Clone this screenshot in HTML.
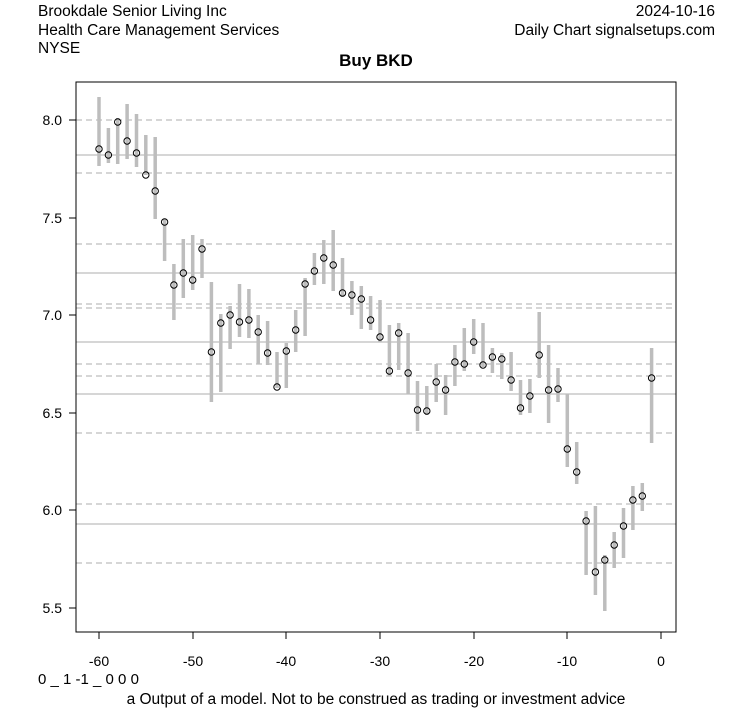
<!DOCTYPE html>
<html><head><style>body{margin:0;background:#fff}svg{display:block;font-family:"Liberation Sans",Arial,sans-serif}</style></head><body>
<svg width="753" height="708" xmlns="http://www.w3.org/2000/svg">
<rect width="753" height="708" fill="#fff"/>
<text x="38" y="16" font-size="15.5">Brookdale Senior Living Inc</text>
<text x="38" y="35" font-size="15.5">Health Care Management Services</text>
<text x="38" y="53" font-size="15.5">NYSE</text>
<text x="715" y="16" font-size="15.5" text-anchor="end">2024-10-16</text>
<text x="715" y="35" font-size="15.5" text-anchor="end">Daily Chart signalsetups.com</text>
<text x="376" y="66" font-size="17" font-weight="bold" text-anchor="middle">Buy BKD</text>
<g stroke="#bdbdbd" stroke-width="1.2">
<line x1="76" x2="676" y1="155" y2="155"/><line x1="76" x2="676" y1="273" y2="273"/><line x1="76" x2="676" y1="342" y2="342"/><line x1="76" x2="676" y1="394" y2="394"/><line x1="76" x2="676" y1="524" y2="524"/>
</g>
<g stroke="#bdbdbd" stroke-width="1.2" stroke-dasharray="6,4">
<line x1="76" x2="676" y1="120" y2="120"/><line x1="76" x2="676" y1="173" y2="173"/><line x1="76" x2="676" y1="244" y2="244"/><line x1="76" x2="676" y1="304" y2="304"/><line x1="76" x2="676" y1="308" y2="308"/><line x1="76" x2="676" y1="364" y2="364"/><line x1="76" x2="676" y1="376" y2="376"/><line x1="76" x2="676" y1="433" y2="433"/><line x1="76" x2="676" y1="504" y2="504"/><line x1="76" x2="676" y1="563" y2="563"/>
</g>
<path stroke="#bdbdbd" stroke-width="3.5" fill="none" d="M99 97V166M108.4 128V163M117.7 118V164M127.1 104V159M136.5 114V167M145.8 135V175M155.2 137V219M164.6 219V261M173.9 264V320M183.3 239V298M192.7 235V290M202 239V278M211.4 282V402M220.8 314V392M230.1 306V349M239.5 284V337M248.9 289V338M258.2 315V364M267.6 321V365M277 352V388M286.3 343V388M295.7 310V352M305.1 278V336M314.4 253V285M323.8 240V284M333.2 230V291M342.5 258V297M351.9 281V315M361.3 286V329M370.6 296V330M380 300V342M389.4 325V376M398.7 323V370M408.1 333V394M417.5 381V431M426.8 386V415M436.2 364V402M445.6 375V415M454.9 345V386M464.3 328V371M473.7 319V354M483 323V367M492.4 348V373M501.8 353V379M511.1 352V391M520.5 380V415M529.9 379V413M539.2 312V378M548.6 345V423M558 368V402M567.3 394V467M576.7 442V484M586.1 511V575M595.4 506V595M604.8 555V611M614.2 532V568M623.5 508V558M632.9 486V530M642.3 483V511M651.6 348V443"/>
<g fill="none" stroke="#000" stroke-width="1">
<circle cx="99" cy="149" r="3.2"/><circle cx="108.4" cy="155" r="3.2"/><circle cx="117.7" cy="122" r="3.2"/><circle cx="127.1" cy="141" r="3.2"/><circle cx="136.5" cy="153" r="3.2"/><circle cx="145.8" cy="175" r="3.2"/><circle cx="155.2" cy="191" r="3.2"/><circle cx="164.6" cy="222" r="3.2"/><circle cx="173.9" cy="285" r="3.2"/><circle cx="183.3" cy="273" r="3.2"/><circle cx="192.7" cy="280" r="3.2"/><circle cx="202" cy="249" r="3.2"/><circle cx="211.4" cy="352" r="3.2"/><circle cx="220.8" cy="323" r="3.2"/><circle cx="230.1" cy="315" r="3.2"/><circle cx="239.5" cy="322" r="3.2"/><circle cx="248.9" cy="320" r="3.2"/><circle cx="258.2" cy="332" r="3.2"/><circle cx="267.6" cy="353" r="3.2"/><circle cx="277" cy="387" r="3.2"/><circle cx="286.3" cy="351" r="3.2"/><circle cx="295.7" cy="330" r="3.2"/><circle cx="305.1" cy="284" r="3.2"/><circle cx="314.4" cy="271" r="3.2"/><circle cx="323.8" cy="258" r="3.2"/><circle cx="333.2" cy="265" r="3.2"/><circle cx="342.5" cy="293" r="3.2"/><circle cx="351.9" cy="295" r="3.2"/><circle cx="361.3" cy="299" r="3.2"/><circle cx="370.6" cy="320" r="3.2"/><circle cx="380" cy="337" r="3.2"/><circle cx="389.4" cy="371" r="3.2"/><circle cx="398.7" cy="333" r="3.2"/><circle cx="408.1" cy="373" r="3.2"/><circle cx="417.5" cy="410" r="3.2"/><circle cx="426.8" cy="411" r="3.2"/><circle cx="436.2" cy="382" r="3.2"/><circle cx="445.6" cy="390" r="3.2"/><circle cx="454.9" cy="362" r="3.2"/><circle cx="464.3" cy="364" r="3.2"/><circle cx="473.7" cy="342" r="3.2"/><circle cx="483" cy="365" r="3.2"/><circle cx="492.4" cy="357" r="3.2"/><circle cx="501.8" cy="359" r="3.2"/><circle cx="511.1" cy="380" r="3.2"/><circle cx="520.5" cy="408" r="3.2"/><circle cx="529.9" cy="396" r="3.2"/><circle cx="539.2" cy="355" r="3.2"/><circle cx="548.6" cy="390" r="3.2"/><circle cx="558" cy="389" r="3.2"/><circle cx="567.3" cy="449" r="3.2"/><circle cx="576.7" cy="472" r="3.2"/><circle cx="586.1" cy="521" r="3.2"/><circle cx="595.4" cy="572" r="3.2"/><circle cx="604.8" cy="560" r="3.2"/><circle cx="614.2" cy="545" r="3.2"/><circle cx="623.5" cy="526" r="3.2"/><circle cx="632.9" cy="500" r="3.2"/><circle cx="642.3" cy="496" r="3.2"/><circle cx="651.6" cy="378" r="3.2"/>
</g>
<rect x="76" y="82" width="600" height="550" fill="none" stroke="#000" stroke-width="1"/>
<g stroke="#000">
<line x1="99" x2="661" y1="632" y2="632"/>
<line x1="99" x2="99" y1="632" y2="639"/><line x1="193" x2="193" y1="632" y2="639"/><line x1="286" x2="286" y1="632" y2="639"/><line x1="380" x2="380" y1="632" y2="639"/><line x1="474" x2="474" y1="632" y2="639"/><line x1="567" x2="567" y1="632" y2="639"/><line x1="661" x2="661" y1="632" y2="639"/>
<line x1="76" x2="69" y1="120" y2="120"/><line x1="76" x2="69" y1="218" y2="218"/><line x1="76" x2="69" y1="315" y2="315"/><line x1="76" x2="69" y1="413" y2="413"/><line x1="76" x2="69" y1="510" y2="510"/><line x1="76" x2="69" y1="608" y2="608"/>
</g>
<g font-size="14" text-anchor="middle">
<text x="99" y="666">-60</text><text x="193" y="666">-50</text><text x="286" y="666">-40</text><text x="380" y="666">-30</text><text x="474" y="666">-20</text><text x="567" y="666">-10</text><text x="661" y="666">0</text>
</g>
<g font-size="14" text-anchor="end">
<text x="62" y="125">8.0</text><text x="62" y="223">7.5</text><text x="62" y="320">7.0</text><text x="62" y="418">6.5</text><text x="62" y="515">6.0</text><text x="62" y="613">5.5</text>
</g>
<text x="38" y="684" font-size="15">0 _ 1 -1 _ 0 0 0</text>
<text x="376" y="704" font-size="15.5" text-anchor="middle">a Output of a model. Not to be construed as trading or investment advice</text>
</svg>
</body></html>
